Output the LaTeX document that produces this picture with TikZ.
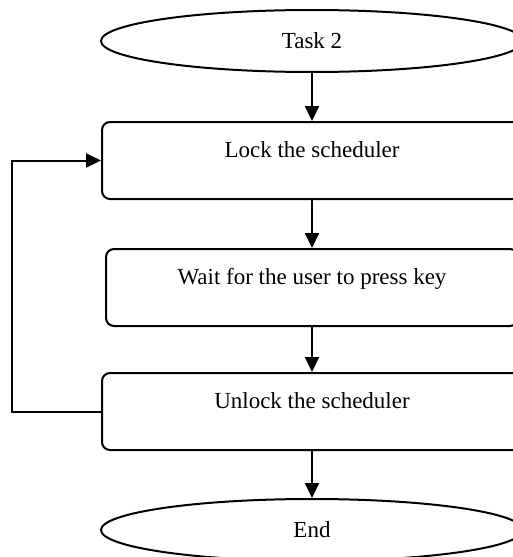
\documentclass[tikz,border=0pt]{standalone}
\usepackage{fontspec}
\setmainfont{Liberation Serif}
\usetikzlibrary{shapes.geometric,arrows.meta}

\tikzset{
  flowbox/.style={draw, rounded corners=4pt, inner sep=0pt, minimum width=210pt,
    text height=17.5pt, text depth=21pt},
  terminal/.style={draw, ellipse, inner sep=0pt, minimum width=211pt, minimum height=31pt},
  flowarrow/.style={-{Triangle[length=7.5pt,width=7pt]}}
}

\begin{document}
\begin{tikzpicture}[x=0.5pt, y=-0.5pt, line width=1pt, font=\fontsize{11.5}{14}\selectfont]

\useasboundingbox (0,0) rectangle (513,557);
\clip (0,0) rectangle (513,557);

\node[terminal] (task) at (312,41) {Task 2};
\node[flowbox] (lock) at (312,160.5) {Lock the scheduler};
\node[flowbox, minimum width=206pt] (wait) at (312,287.5) {Wait for the user to press key};
\node[flowbox] (unlock) at (312,411.5) {Unlock the scheduler};
\node[terminal] (end) at (312,530) {End};

\draw[flowarrow] (task) -- (lock);
\draw[flowarrow] (lock) -- (wait);
\draw[flowarrow] (wait) -- (unlock);
\draw[flowarrow] (unlock) -- (end);

% loop back to the lock
\draw[flowarrow] (unlock.west) -- ++(-89,0) |- (lock.west);

\end{tikzpicture}
\end{document}
